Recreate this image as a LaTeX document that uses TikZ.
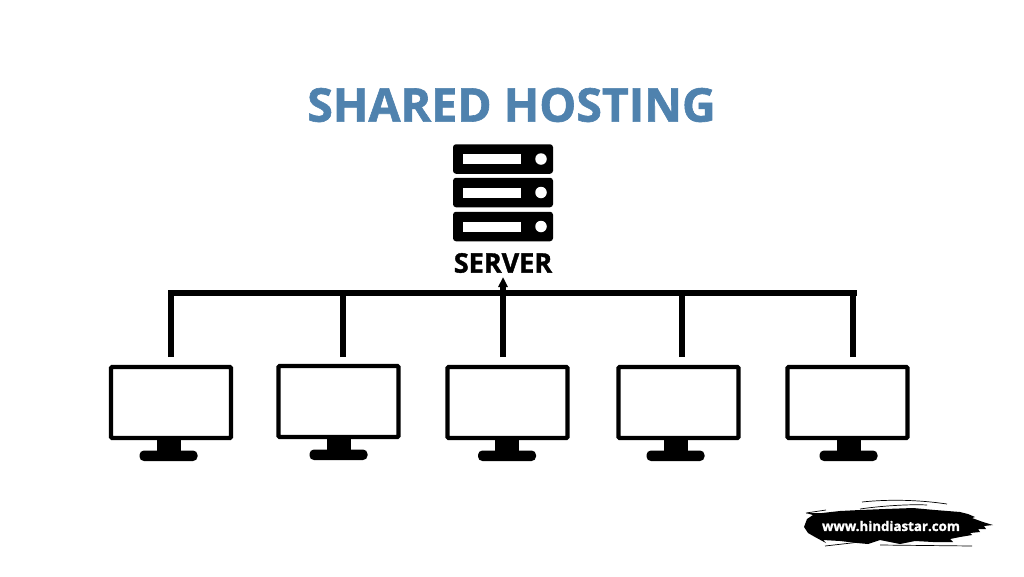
\documentclass[tikz,border=0pt]{standalone}
\usepackage{fontspec}
\setmainfont{Open Sans}[BoldFeatures={FakeBold=1.3}]
\usetikzlibrary{arrows.meta,calc}
\definecolor{titleblue}{HTML}{4F82AE}
\tikzset{
  x=1pt,y=-1pt,
  link/.style={line width=6pt,line cap=butt,black},
  screen/.style={draw=black,line width=4.2pt,fill=white,rounded corners=1pt,minimum width=120pt,minimum height=71pt,inner sep=0pt,outer sep=0pt},
  rack/.style={fill=black,rounded corners=3pt,minimum width=100pt,minimum height=29.5pt,inner sep=0pt,outer sep=0pt},
  slot/.style={fill=white,minimum width=58pt,minimum height=10pt,inner sep=0pt},
  led/.style={circle,fill=white,minimum size=11.5pt,inner sep=0pt},
  titletext/.style={font=\fontsize{46.5}{47}\selectfont\bfseries,text=titleblue,inner sep=0pt},
  labeltext/.style={font=\fontsize{27}{28}\selectfont\bfseries,text=black,inner sep=0pt},
  urltext/.style={font=\fontsize{13.3}{15}\selectfont\bfseries,text=white,inner sep=0pt},
  streak/.style={black,line width=.7pt},
}
\newcommand{\monitor}[4]{% name, screen centre x, screen centre y, stand centre x
  \node[screen] (#1) at (#2,#3) {};
  \fill[black] (#4-12,#3+37) rectangle (#4+12,#3+50);
  \fill[black,rounded corners=4.4pt] (#4-29,#3+48) rectangle (#4+29,#3+58.5);
}
\begin{document}
\begin{tikzpicture}
\useasboundingbox (0,0) rectangle (1024,576);
\fill[white] (0,0) rectangle (1024,576);
\node[titletext] (title) at (511.5,105) {SHARED HOSTING};
% server
\foreach \n/\y in {a/159,b/192.5,c/226.5}{
  \node[rack] (rack\n) at (503,\y) {};
  \node[slot] (slot\n) at (492,\y) {};
  \node[led] (led\n) at (541,\y) {};
}
\node[labeltext] (server) at (503,263) {SERVER};
% monitors
\monitor{m1}{171}{402.5}{168.5}
\monitor{m2}{338.5}{401.5}{338.5}
\monitor{m3}{507.5}{402.5}{507}
\monitor{m4}{678.5}{402.5}{675.5}
\monitor{m5}{847.5}{402.5}{848.5}
% bus
\coordinate (busL) at (168,293);
\coordinate (busR) at (857,293);
\draw[link] (busL) -- (busR);
\foreach \n/\x in {1/171,2/343,3/503,4/682,5/853}{
  \coordinate (bus\n) at (\x,290.5);
  \coordinate (drop\n) at (\x,357);
}
\foreach \n in {1,2,4,5}{\draw[link] (drop\n) -- (bus\n);}
\coordinate (tip) at (503,277);
\draw[link,-{Stealth[length=10pt,width=9pt,inset=0pt]}] (drop3) -- (tip);
% brush
\fill[black] (804,527) -- (807,519) -- (813,515) -- (806,513) -- (822,513) -- (840,511) -- (860,510)
  -- (885,509) -- (913,508) -- (935,510) -- (960,512) -- (968,514) -- (975,517) -- (972,518)
  -- (983,522) -- (993,525) -- (984,526) -- (986,529) -- (978,529) -- (980,532) -- (970,533)
  -- (972,535) -- (960,537) -- (950,539) -- (953,542) -- (933,542) -- (915,541) -- (900,544) -- (880,540)
  -- (868,544) -- (857,543) -- (840,541) -- (823,540) -- (826,543) -- (815,537) -- (808,533) -- cycle;
\draw[streak] (862,502) .. controls (890,499) and (920,500) .. (947,504);
\draw[streak] (860,509) .. controls (880,506) and (910,504) .. (927,505);
\draw[streak] (806,513) -- (826,510);
\draw[streak] (825,546) -- (860,542);
\draw[streak] (880,545) -- (972,546);
\node[urltext] (url) at (891,526) {www.hindiastar.com};
\end{tikzpicture}
\end{document}
